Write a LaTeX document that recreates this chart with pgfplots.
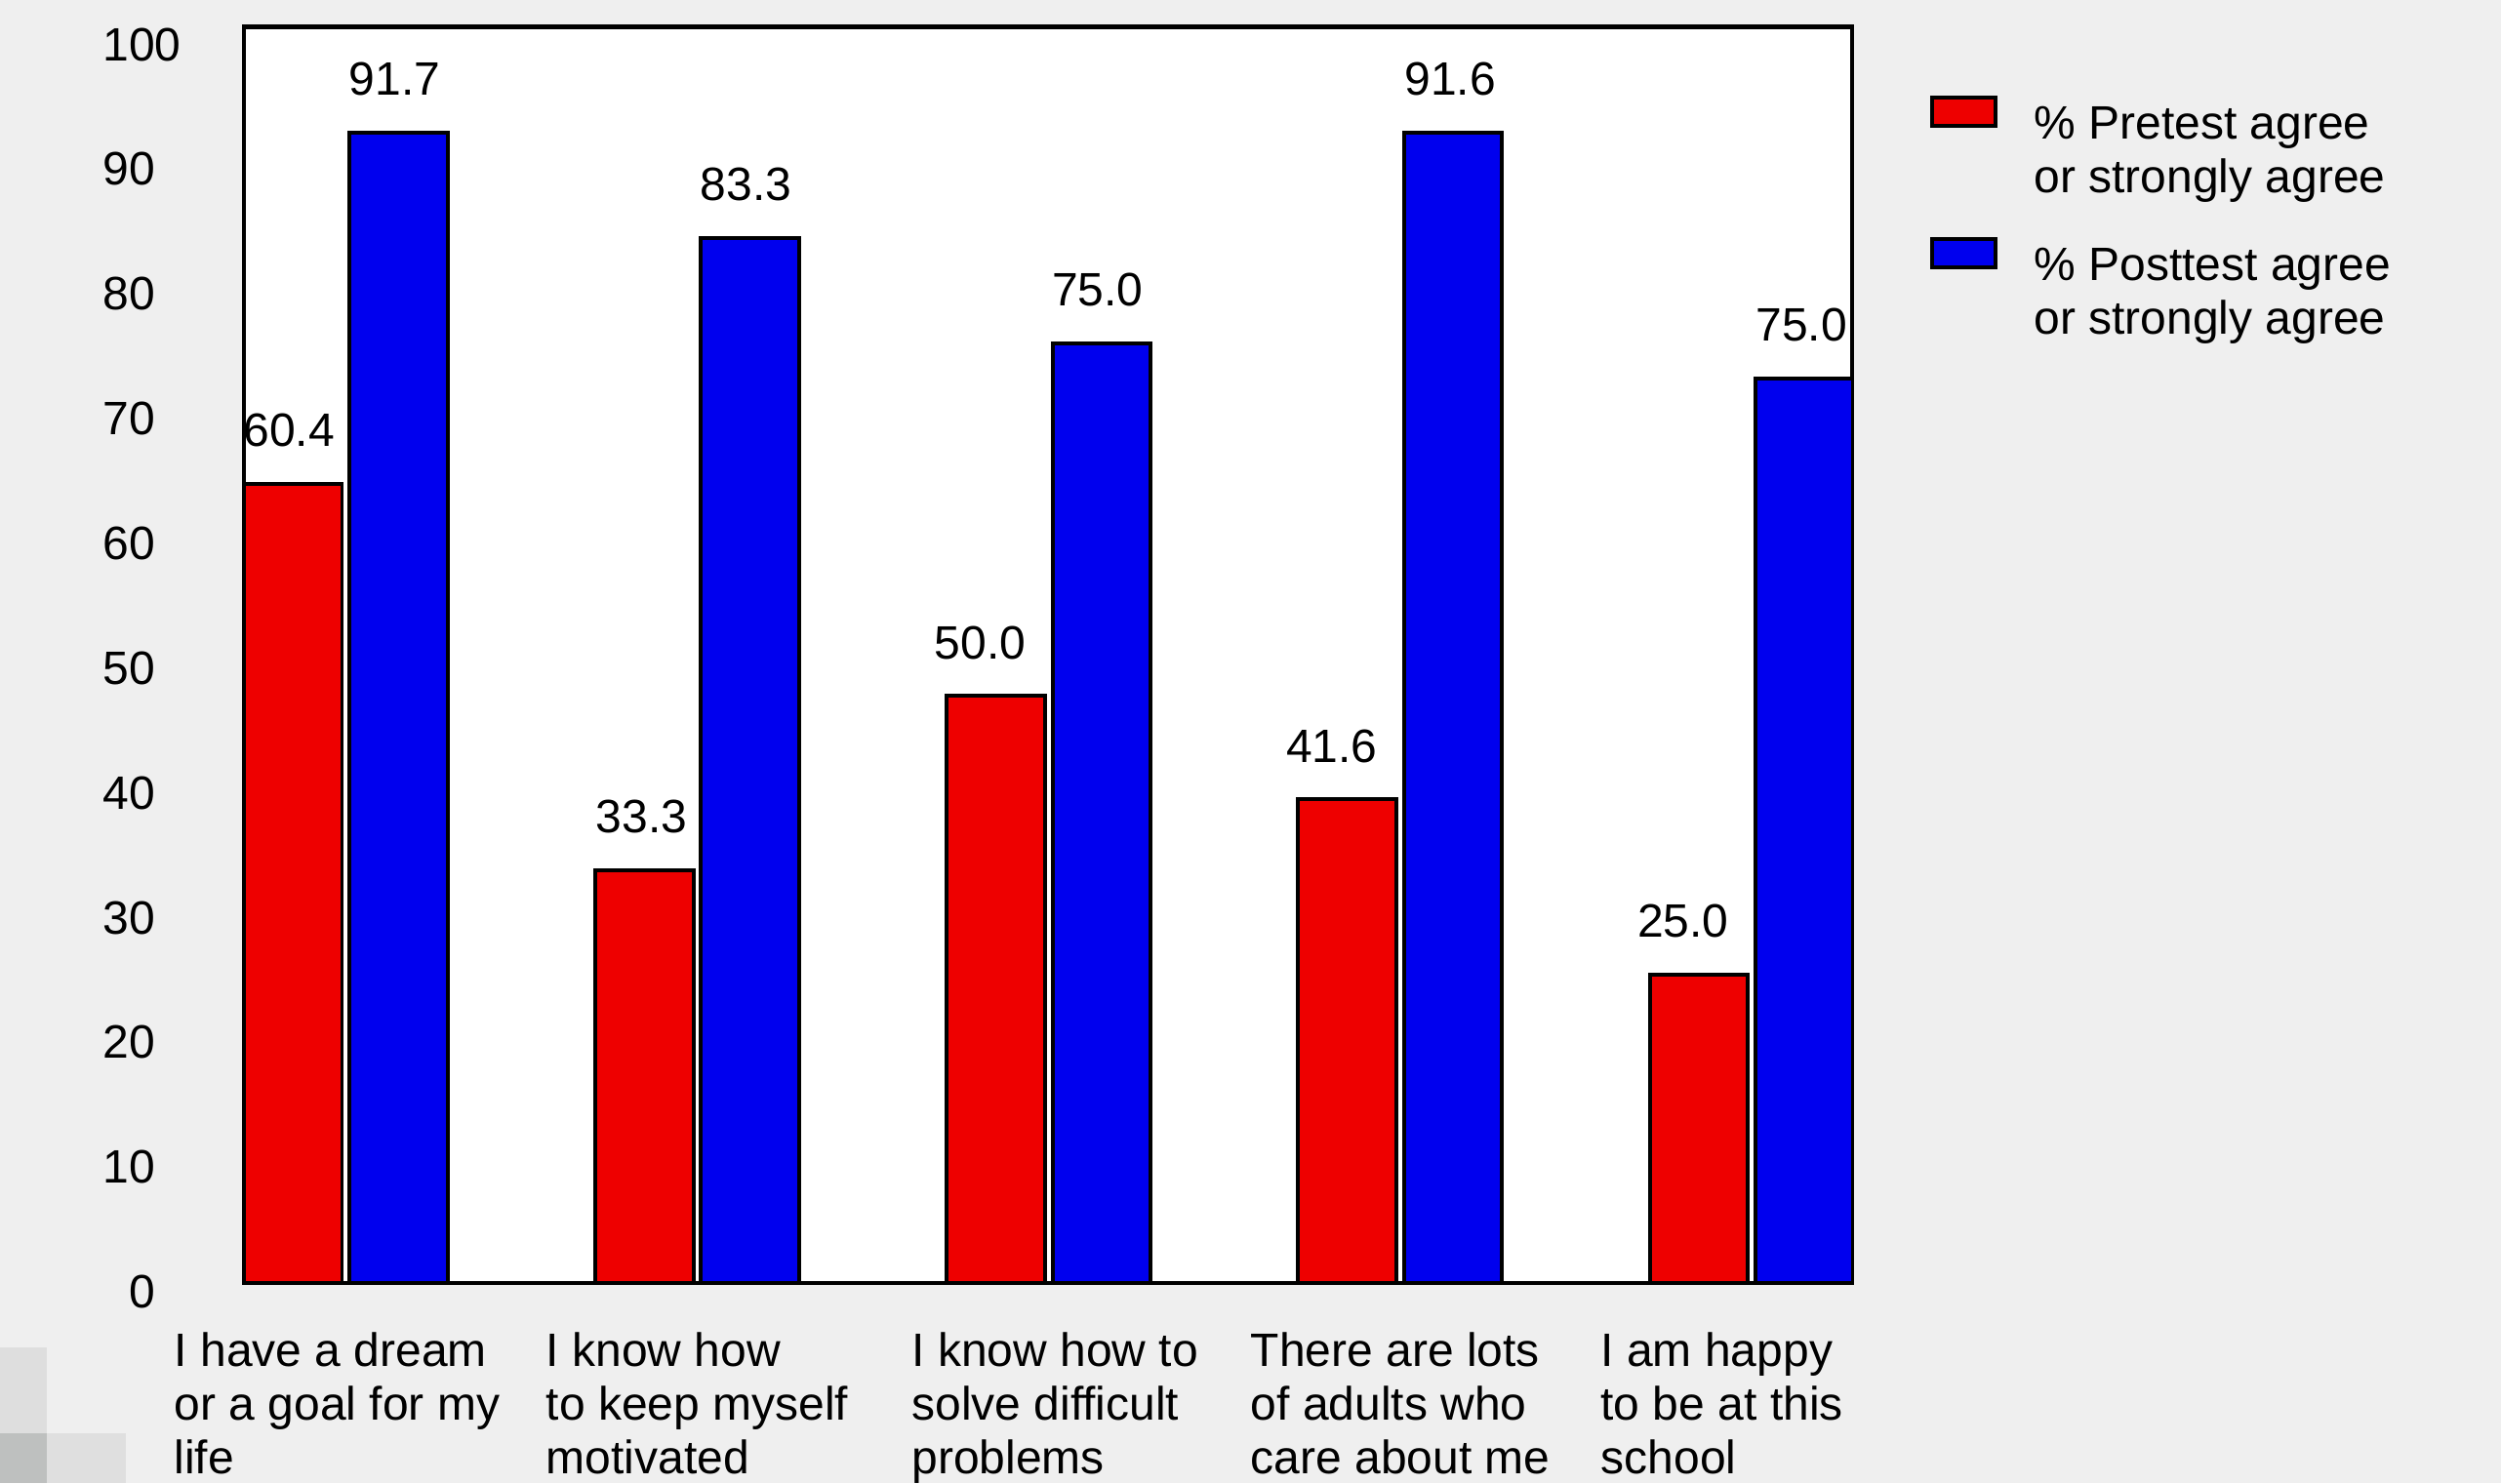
\documentclass[border=0pt]{standalone}
\usepackage{fontspec}
\setmainfont{Liberation Sans}
\usepackage{pgfplots}
\usepackage{pgfplotstable}
\pgfplotsset{compat=1.18}

\definecolor{barred}{RGB}{238,0,0}
\definecolor{barblue}{RGB}{0,0,238}
\definecolor{pagebg}{RGB}{239,239,239}
\definecolor{sqa}{RGB}{222,222,222}
\definecolor{sqb}{RGB}{190,192,191}
\definecolor{sqc}{RGB}{223,223,223}

% bar heights as drawn, label = printed value, dx = label nudge (pt)
\pgfplotstableread{
x y label dx
0 64.06 60.4 -0.85
1 33.10 33.3 -0.6
2 47.06 50.0 -3.3
3 38.75 41.6 -3.3
4 24.70 25.0 -3.3
}\pretest
\pgfplotstableread{
x y label dx
0 92.20 91.7 -0.85
1 83.76 83.3 -0.85
2 75.30 75.0 -0.85
3 92.20 91.6 -0.6
4 72.50 75.0 -0.6
}\posttest

\newcommand{\cat}[1]{\begin{tabular}[t]{@{}l@{}}#1\end{tabular}}

\begin{document}
\fontsize{10}{11.5}\selectfont
\begin{tikzpicture}
\path[use as bounding box, fill=pagebg] (0,0) rectangle (533.96pt,316.67pt);
\fill[sqa] (0pt,10.625pt) rectangle (10pt,28.96pt);
\fill[sqb] (0pt,0pt) rectangle (10pt,10.625pt);
\fill[sqc] (10pt,0pt) rectangle (26.9pt,10.625pt);
\begin{axis}[
  at={(52.08pt,42.77pt)}, anchor=south west,
  scale only axis, width=343.33pt, height=268.17pt,
  xmin=-0.290, xmax=4.286, ymin=0, ymax=100.68,
  ybar, bar width=0.279,
  axis background/.style={fill=white},
  axis line style={line width=0.9pt},
  major tick length=0pt,
  ytick={0,10,...,100},
  yticklabels={0,10,20,30,40,50,60,70,80,90,\rlap{100}\phantom{10}},
  yticklabel style={anchor=east, inner sep=0pt, xshift=-18.8pt, yshift=-1.94pt},
  xtick={-0.025,1,2.018,3.001,3.916},
  xticklabels={
    \cat{I have a dream\\or a goal for my\\life},
    \cat{I know how\\to keep myself\\motivated},
    \cat{I know how to\\solve difficult\\problems},
    \cat{There are lots\\of adults who\\care about me},
    \cat{I am happy\\to be at this\\school}},
  xticklabel style={anchor=base, inner sep=0pt, yshift=-17.77pt},
  nodes near coords,
  point meta=explicit symbolic,
  visualization depends on={\thisrow{dx} \as \dx},
  nodes near coords style={anchor=base, inner sep=0pt, yshift=7.92pt, xshift=\dx pt},
  legend image code/.code={\draw[#1] (0pt,2.84pt) rectangle (13.54pt,8.82pt);},
  legend style={draw=none, fill=none, inner sep=0pt, outer sep=0pt,
    at={(axis description cs:1.0485,0.948)}, anchor=north west,
    row sep=16.6pt, column sep=5.84pt,
    cells={anchor=base west, inner sep=0pt}},
]
\addplot[fill=barred, draw=black, line width=0.83pt, bar shift=-0.1504]
  table[x=x, y=y, meta=label] {\pretest};
\addlegendentry{\cat{\% Pretest agree\\or strongly agree}}
\addplot[fill=barblue, draw=black, line width=0.83pt, bar shift=0.1504]
  table[x=x, y=y, meta=label] {\posttest};
\addlegendentry{\cat{\% Posttest agree\\or strongly agree}}
\end{axis}
\end{tikzpicture}
\end{document}
